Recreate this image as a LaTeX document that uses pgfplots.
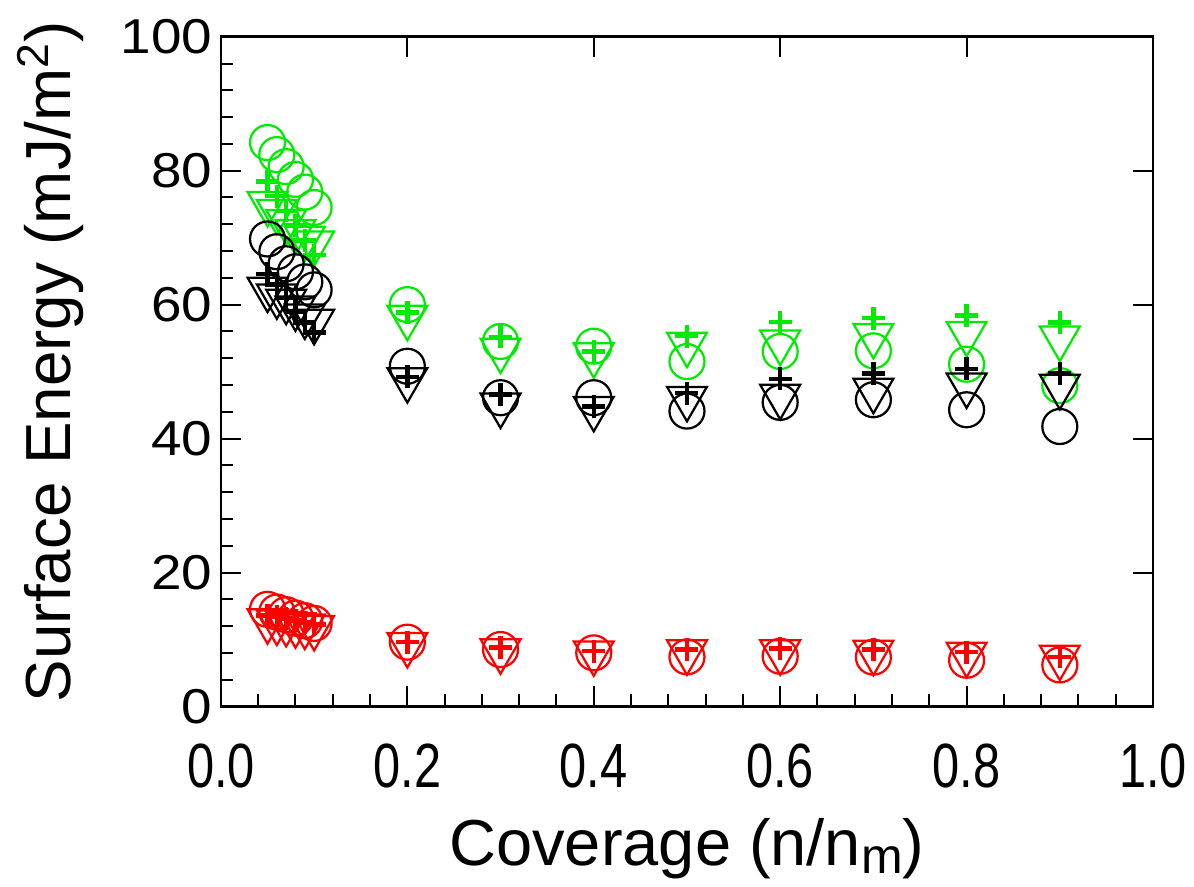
\documentclass[border=0pt]{standalone}
\usepackage{fontspec}
\setmainfont{Liberation Sans}
\usepackage{graphicx}
\usepackage{pgfplots}
\pgfplotsset{compat=1.18}
\usepackage{pgfplotstable}

\definecolor{sgreen}{RGB}{0,235,0}
\definecolor{sred}{RGB}{255,0,0}

% x, circle, triangle, plus
\pgfplotstableread{
x    circ  tri   plus
0.05 84.2  75.1  78.4
0.06 82.4  73.9  76.2
0.07 80.6  72.4  74.0
0.08 78.7  70.9  71.8
0.09 76.8  69.9  69.6
0.10 74.5  69.2  67.4
0.2  60.0  58.1  58.8
0.3  54.5  53.2  55.2
0.4  53.8  52.5  53.0
0.5  51.5  54.1  55.3
0.6  53.0  54.4  57.4
0.7  53.1  55.4  58.0
0.8  51.1  55.7  58.4
0.9  47.9  55.0  57.3
}\greendata

\pgfplotstableread{
x    circ  tri   plus
0.05 69.8  62.3  64.6
0.06 67.9  61.3  63.0
0.07 66.1  60.5  61.0
0.08 64.9  59.5  59.0
0.09 63.4  58.3  57.3
0.10 62.2  57.5  55.8
0.2  50.8  48.8  49.2
0.3  46.1  45.0  46.6
0.4  46.1  44.5  44.8
0.5  44.1  46.0  46.8
0.6  45.4  46.3  48.9
0.7  45.8  47.2  49.7
0.8  44.3  48.0  50.4
0.9  41.8  47.8  49.7
}\blackdata

\pgfplotstableread{
x    circ  tri   plus
0.05 14.5  12.8  13.6
0.06 14.1  12.6  13.4
0.07 13.7  12.4  13.1
0.08 13.2  12.2  12.8
0.09 12.8  12.0  12.5
0.10 12.4  11.8  12.2
0.2  9.6   9.25  9.6
0.3  8.5   8.3   8.8
0.4  8.0   8.0   8.25
0.5  7.4   8.15  8.5
0.6  7.5   8.15  8.66
0.7  7.36  8.1   8.5
0.8  6.9   7.8   8.1
0.9  6.2   7.35  7.4
}\reddata

\pgfplotsset{
  circ/.style={only marks, mark=o, mark size=7pt, line width=0.9pt},
  tri/.style={only marks, mark=triangle, mark size=9.2pt, line width=0.9pt, mark options={rotate=180}},
  pl/.style={only marks, mark=+, mark size=4.6pt, line width=1.8pt},
  frame/.style={
    scale only axis, width=373pt, height=268pt,
    xmin=0, xmax=1, ymin=0, ymax=100,
    xtick={0,0.2,0.4,0.6,0.8,1.0},
    ytick={0,20,40,60,80,100},
    tick align=inside, major tick length=8pt,
    axis line style={line width=1pt},
    tick style={black, line width=0.8pt},
  },
}
\newcommand{\nx}[1]{\scalebox{0.78}[1]{#1}}
\newcommand{\ny}[1]{\scalebox{1.12}[1]{#1}}

\begin{document}
\begin{tikzpicture}
\begin{axis}[
  frame,
  minor tick num=4, minor tick length=5pt,
  xtick pos=left, ytick pos=left,
  xticklabels={\nx{0.0},\nx{0.2},\nx{0.4},\nx{0.6},\nx{0.8},\nx{1.0}},
  yticklabels={\ny{0},\ny{20},\ny{40},\ny{60},\ny{80},\ny{100}},
  xticklabel style={font=\fontsize{25}{28}\selectfont, anchor=center, yshift=-24pt},
  yticklabel style={font=\fontsize{19.6}{22}\selectfont},
  xlabel={Coverage (n/n\raisebox{-0.25ex}{\fontsize{20}{22}\selectfont m})},
  ylabel={Surface Energy (mJ/m\textsuperscript{2})},
  xlabel style={font=\fontsize{26}{28}\selectfont, inner sep=1pt, at={(axis description cs:0.5,-0.212)}, anchor=center},
  ylabel style={font=\fontsize{25.5}{28}\selectfont, at={(axis description cs:-0.183,0.515)}, anchor=center, rotate=0},
]
\addplot[circ, sgreen] table[x=x, y=circ] {\greendata};
\addplot[tri, sgreen]  table[x=x, y=tri]  {\greendata};
\addplot[pl, sgreen]   table[x=x, y=plus] {\greendata};
\addplot[circ, black] table[x=x, y=circ] {\blackdata};
\addplot[tri, black]  table[x=x, y=tri]  {\blackdata};
\addplot[pl, black]   table[x=x, y=plus] {\blackdata};
\addplot[circ, sred] table[x=x, y=circ] {\reddata};
\addplot[tri, sred]  table[x=x, y=tri]  {\reddata};
\addplot[pl, sred]   table[x=x, y=plus] {\reddata};
\coordinate (sw) at (rel axis cs:0,0);
\coordinate (ne) at (rel axis cs:1,1);
\end{axis}
% opposite sides carry major ticks only
\begin{axis}[
  frame,
  xtick pos=right, ytick pos=right,
  xticklabels={}, yticklabels={},
]
\end{axis}
\pgfresetboundingbox
\path ([shift={(-88.4pt,-72pt)}]sw) rectangle ([shift={(16.4pt,14.7pt)}]ne);
\end{tikzpicture}
\end{document}
